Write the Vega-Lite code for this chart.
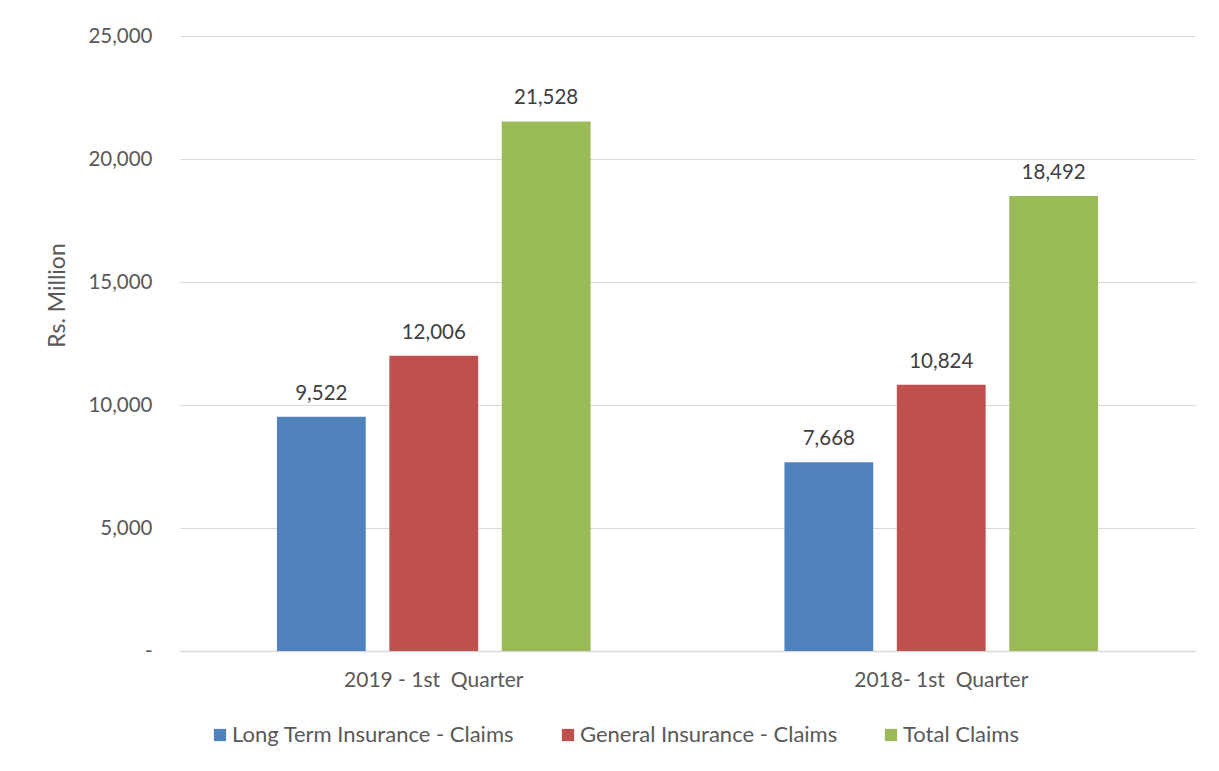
{
  "$schema": "https://vega.github.io/schema/vega-lite/v6.json",
  "width": 1015,
  "height": 615,
  "autosize": {"type": "none"},
  "padding": {"left": 180, "top": 36, "right": 24, "bottom": 120},
  "background": "white",
  "config": {
    "font": "Lato",
    "view": {"stroke": null},
    "axis": {"labelColor": "#595959", "titleColor": "#595959", "labelFont": "Lato", "titleFont": "Lato"},
    "legend": {"labelFont": "Lato"}
  },
  "data": {
    "values": [
      {"quarter": "2019 - 1st \u00a0Quarter", "series": "Long Term Insurance - Claims", "value": 9522},
      {"quarter": "2019 - 1st \u00a0Quarter", "series": "General Insurance - Claims", "value": 12006},
      {"quarter": "2019 - 1st \u00a0Quarter", "series": "Total Claims", "value": 21528},
      {"quarter": "2018- 1st \u00a0Quarter", "series": "Long Term Insurance - Claims", "value": 7668},
      {"quarter": "2018- 1st \u00a0Quarter", "series": "General Insurance - Claims", "value": 10824},
      {"quarter": "2018- 1st \u00a0Quarter", "series": "Total Claims", "value": 18492}
    ]
  },
  "encoding": {
    "x": {
      "field": "quarter",
      "type": "nominal",
      "sort": ["2019 - 1st \u00a0Quarter", "2018- 1st \u00a0Quarter"],
      "scale": {"paddingInner": 0.382, "paddingOuter": 0.191},
      "axis": {
        "title": null,
        "labelAngle": 0,
        "labelFontSize": 21,
        "labelPadding": 18,
        "ticks": false,
        "domain": true,
        "domainColor": "#D9D9D9",
        "domainWidth": 1.5
      }
    },
    "xOffset": {
      "field": "series",
      "type": "nominal",
      "sort": ["Long Term Insurance - Claims", "General Insurance - Claims", "Total Claims"],
      "scale": {"paddingInner": 0.21, "paddingOuter": 0}
    },
    "y": {
      "field": "value",
      "type": "quantitative",
      "scale": {"domain": [0, 25000], "nice": false},
      "axis": {
        "title": "Rs. Million",
        "titleFontSize": 23,
        "titleFontWeight": "normal",
        "titleX": -111,
        "titleY": 259,
        "titleAngle": -90,
        "values": [0, 5000, 10000, 15000, 20000, 25000],
        "labelExpr": "datum.value == 0 ? '-' : format(datum.value, ',')",
        "labelFontSize": 20.5,
        "labelPadding": 28,
        "ticks": false,
        "domain": false,
        "grid": true,
        "gridColor": "#D9D9D9",
        "gridWidth": 1.2
      }
    }
  },
  "layer": [
    {
      "mark": {"type": "bar"},
      "encoding": {
        "color": {
          "field": "series",
          "type": "nominal",
          "scale": {
            "domain": ["Long Term Insurance - Claims", "General Insurance - Claims", "Total Claims"],
            "range": ["#4F81BD", "#C0504D", "#9BBB59"]
          },
          "legend": {
            "title": null,
            "orient": "none",
            "direction": "horizontal",
            "legendX": 29,
            "legendY": 688,
            "symbolType": "square",
            "symbolSize": 150,
            "symbolStrokeWidth": 0,
            "labelFontSize": 22,
            "labelColor": "#595959",
            "labelOffset": 1,
            "columnPadding": 42,
            "labelLimit": 400
          }
        }
      }
    },
    {
      "mark": {"type": "text", "baseline": "bottom", "dy": -13, "fontSize": 20.5, "color": "#404040"},
      "encoding": {
        "text": {"field": "value", "type": "quantitative", "format": ","}
      }
    }
  ]
}
